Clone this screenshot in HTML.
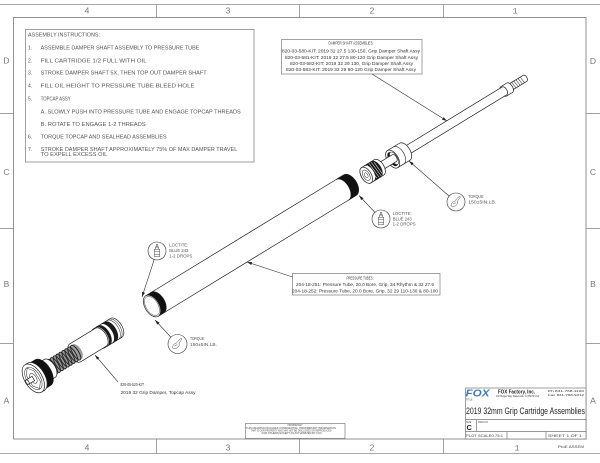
<!DOCTYPE html>
<html><head><meta charset="utf-8"><style>
html,body{margin:0;padding:0;background:#fff;}
svg{display:block;}
</style></head><body>
<svg width="600" height="463" viewBox="0 0 600 463" xmlns="http://www.w3.org/2000/svg">
<defs>
<marker id="ar" markerWidth="5" markerHeight="3" refX="5" refY="1.5" orient="auto" markerUnits="userSpaceOnUse"><path d="M0,0 L5,1.5 L0,3 Z" fill="#222"/></marker>
</defs>
<rect width="600" height="463" fill="#fff"/>

<!-- FRAME -->
<g stroke="#8a8a8a" stroke-width="0.8" fill="none">
<line x1="0" y1="4.5" x2="600" y2="4.5"/>
<line x1="0" y1="453.5" x2="600" y2="453.5"/>
<rect x="13.5" y="17.5" width="572.5" height="421.5" stroke="#777"/>
<line x1="156.5" y1="4.5" x2="156.5" y2="17.5"/>
<line x1="299.5" y1="4.5" x2="299.5" y2="17.5"/>
<line x1="443.5" y1="4.5" x2="443.5" y2="17.5"/>
<line x1="156.5" y1="439" x2="156.5" y2="453.5"/>
<line x1="299.5" y1="439" x2="299.5" y2="453.5"/>
<line x1="443.5" y1="439" x2="443.5" y2="453.5"/>
<line x1="0" y1="113.5" x2="13.5" y2="113.5"/>
<line x1="0" y1="228.5" x2="13.5" y2="228.5"/>
<line x1="0" y1="343.5" x2="13.5" y2="343.5"/>
<line x1="586" y1="113.5" x2="600" y2="113.5"/>
<line x1="586" y1="228.5" x2="600" y2="228.5"/>
<line x1="586" y1="343.5" x2="600" y2="343.5"/>
</g>
<g font-family="Liberation Sans, sans-serif" font-size="8.5" fill="#777" text-anchor="middle">
<text x="87" y="13.5">4</text><text x="228" y="13.5">3</text><text x="372" y="13.5">2</text><text x="515" y="13.5" font-family="Liberation Mono, monospace">1</text>
<text x="87" y="450.5">4</text><text x="228" y="450.5">3</text><text x="372" y="450.5">2</text><text x="517" y="450.5" font-family="Liberation Mono, monospace">1</text>
<text x="6.5" y="63.5">D</text><text x="6.5" y="175">C</text><text x="6.5" y="287">B</text><text x="6.5" y="403.5">A</text>
<text x="593" y="64">D</text><text x="593" y="175">C</text><text x="593" y="287">B</text><text x="593" y="403.5">A</text>
</g>

<!-- ASSEMBLY INSTRUCTIONS -->
<rect x="25.5" y="29.5" width="228.5" height="132.5" fill="none" stroke="#777" stroke-width="0.7"/>
<g font-family="Liberation Sans, sans-serif" font-size="5" fill="#555">
<text x="28" y="36.3" textLength="72" lengthAdjust="spacingAndGlyphs">ASSEMBLY INSTRUCTIONS:</text>
<text x="28" y="49.3">1.</text>
<text x="40.7" y="49.3" textLength="158.6" lengthAdjust="spacingAndGlyphs">ASSEMBLE DAMPER SHAFT ASSEMBLY TO PRESSURE TUBE</text>
<text x="28" y="62.7">2.</text>
<text x="40.7" y="62.7" textLength="106" lengthAdjust="spacingAndGlyphs">FILL CARTRIDGE 1/2 FULL WITH OIL</text>
<text x="28" y="74.7">3.</text>
<text x="40.7" y="74.7" textLength="166" lengthAdjust="spacingAndGlyphs">STROKE DAMPER SHAFT 5X, THEN TOP OUT DAMPER SHAFT</text>
<text x="28" y="87.3">4.</text>
<text x="40.7" y="87.3" textLength="154" lengthAdjust="spacingAndGlyphs">FILL OIL HEIGHT TO PRESSURE TUBE BLEED HOLE</text>
<text x="28" y="100.7">5.</text>
<text x="40.7" y="100.7" textLength="30" lengthAdjust="spacingAndGlyphs">TOPCAP ASSY</text>
<text x="40.7" y="113.3" textLength="200" lengthAdjust="spacingAndGlyphs">A. SLOWLY PUSH INTO PRESSURE TUBE AND ENGAGE TOPCAP THREADS</text>
<text x="40.7" y="126" textLength="105" lengthAdjust="spacingAndGlyphs">B. ROTATE TO ENGAGE 1-2 THREADS</text>
<text x="28" y="138.7">6.</text>
<text x="40.7" y="138.7" textLength="126" lengthAdjust="spacingAndGlyphs">TORQUE TOPCAP AND SEALHEAD ASSEMBLIES</text>
<text x="28" y="151.2">7.</text>
<text x="40.7" y="151.2" textLength="196.6" lengthAdjust="spacingAndGlyphs">STROKE DAMPER SHAFT APPROXIMATELY 75% OF MAX DAMPER TRAVEL</text>
<text x="40.7" y="155.8" textLength="66.6" lengthAdjust="spacingAndGlyphs">TO EXPELL EXCESS OIL</text>
</g>

<!-- DAMPER SHAFT BOX -->
<rect x="281.5" y="39.5" width="140.5" height="34.5" fill="#fff" stroke="#666" stroke-width="0.6"/>
<g font-family="Liberation Sans, sans-serif" font-size="4.5" fill="#333" text-anchor="middle">
<text x="351" y="44.4" textLength="45" lengthAdjust="spacingAndGlyphs">DAMPER SHAFT ASSEMBLIES:</text>
<text x="351" y="52.4" textLength="138" lengthAdjust="spacingAndGlyphs">820-03-580-KIT: 2019 32 27.5 130-150, Grip Damper Shaft Assy</text>
<text x="351.5" y="58.8" textLength="133" lengthAdjust="spacingAndGlyphs">820-03-581-KIT: 2019 32 27.5 80-120 Grip Damper Shaft Assy</text>
<text x="351.5" y="65" textLength="123" lengthAdjust="spacingAndGlyphs">820-03-582-KIT: 2019 32 29 130, Grip Damper Shaft Assy</text>
<text x="351" y="71.2" textLength="130" lengthAdjust="spacingAndGlyphs">820-03-583-KIT: 2019 32 29 80-120 Grip Damper Shaft Assy</text>
</g>

<!-- PRESSURE TUBES BOX -->
<rect x="292.5" y="273.5" width="147.5" height="21.5" fill="#fff" stroke="#666" stroke-width="0.6"/>
<g font-family="Liberation Sans, sans-serif" font-size="4.5" fill="#333" text-anchor="middle">
<text x="360" y="279.7" textLength="27" lengthAdjust="spacingAndGlyphs">PRESSURE TUBES:</text>
<text x="365" y="285.9" textLength="138" lengthAdjust="spacingAndGlyphs">204-18-251: Pressure Tube, 20.0 Bore, Grip, 34 Rhythm &amp; 32 27.5</text>
<text x="365" y="292.6" textLength="146" lengthAdjust="spacingAndGlyphs">204-18-252: Pressure Tube, 20.0 Bore, Grip, 32 29 110-130 &amp; 80-100</text>
</g>

<!-- TOPCAP LABEL -->
<g font-family="Liberation Sans, sans-serif" font-size="4.5" fill="#333">
<text x="120.5" y="385.8" textLength="23.5" lengthAdjust="spacingAndGlyphs">820-05-520-KIT</text>
<text x="120.5" y="393.8" textLength="75" lengthAdjust="spacingAndGlyphs">2019 32 Grip Damper, Topcap Assy</text>
</g>

<!-- PARTS (axis group) -->
<g transform="translate(152,306) rotate(-31.4)" stroke="#222" stroke-width="0.7" fill="#fff" stroke-linejoin="round">
  <path d="M418,-3.5 L437,-3.5 A2,3.5 0 0 1 437,3.5 L418,3.5 A2,3.5 0 0 1 418,-3.5 Z"/>
  <path d="M421,-3.5 L421.8,3.5 M423.5,-3.5 L424.3,3.5 M426,-3.5 L426.8,3.5 M428.5,-3.5 L429.3,3.5 M431,-3.5 L431.8,3.5 M433.5,-3.5 L434.3,3.5" stroke-width="0.5" fill="none"/>
  <path d="M412,-5.5 L419,-5.5 A3,5.5 0 0 1 419,5.5 L412,5.5 A3,5.5 0 0 1 412,-5.5 Z"/>
  <path d="M293,-4.5 L413,-4.5 A2.5,4.5 0 0 1 413,4.5 L293,4.5 Z"/>
  <path d="M282,-10 L296,-10 A5.5,10 0 0 1 296,10 L282,10 A5.5,10 0 0 1 282,-10 Z"/>
  <path d="M289,-10 A5.5,10 0 0 1 289,10" fill="none" stroke-width="0.6"/>
  <ellipse cx="282" cy="0" rx="5.5" ry="10"/>
  <ellipse cx="282" cy="0" rx="4" ry="7.8" fill="#111" stroke="none"/>
  <ellipse cx="283.6" cy="0" rx="3.2" ry="7" fill="#fff" stroke-width="0.5"/>
  <path d="M264,-4 L284,-4 A2.2,4 0 0 1 284,4 L264,4 Z"/>
  <path d="M251,-9 L266,-9 A5,9 0 0 1 266,9 L251,9 A5,9 0 0 1 251,-9 Z"/>
  <path d="M254.5,-9 L262.5,-9 A5,9 0 0 1 262.5,9 L254.5,9 A5,9 0 0 0 254.5,-9 Z" fill="#1a1a1a"/>
  <path d="M257,-8 L258.5,8 M259.5,-9 L261,8.5 M262,-8.5 L263.5,8.5 M264.5,-7 L265.5,7" stroke="#fff" stroke-width="0.5" fill="none"/>
  <ellipse cx="251" cy="0" rx="5" ry="9"/>
  <ellipse cx="251" cy="0" rx="3.2" ry="5.8" fill="none" stroke-width="0.5"/>
  <ellipse cx="251" cy="0" rx="1.5" ry="2.7" fill="none" stroke-width="0.5"/>

  <rect x="0" y="-12" width="232" height="24" stroke="none"/>
  <line x1="0" y1="-12" x2="232" y2="-12"/>
  <line x1="0" y1="12" x2="232" y2="12"/>
  <path d="M223,-12 L232,-12 A7,12 0 0 1 232,12 L223,12 A7,12 0 0 0 223,-12 Z" fill="#111"/>
  <path d="M0,-12 L6.5,-12 A7,12 0 0 1 6.5,12 L0,12 Z" fill="#111"/>
  <ellipse cx="0" cy="0" rx="7" ry="12"/>
  <ellipse cx="0" cy="0" rx="6" ry="10.6" fill="none" stroke-width="0.4"/>

  <path d="M-62,-11 L-42,-11 A6,11 0 0 1 -42,11 L-62,11 A6,11 0 0 1 -62,-11 Z"/>
  <path d="M-53,-11 L-49,-11 A6,11 0 0 1 -49,11 L-53,11 A6,11 0 0 0 -53,-11 Z" fill="#1a1a1a"/>
  <path d="M-59,-11 L-56.5,-11 A6,11 0 0 1 -56.5,11 L-59,11 A6,11 0 0 0 -59,-11 Z" fill="#1a1a1a"/>
  <path d="M-46,-11 A6,11 0 0 1 -46,11 M-44,-11 A6,11 0 0 1 -44,11" fill="none" stroke-width="0.5"/>
  <path d="M-90,-10.5 L-60,-10.5 A5.8,10.5 0 0 1 -60,10.5 L-90,10.5 A5.8,10.5 0 0 1 -90,-10.5 Z"/>
  <path d="M-123,-8.5 L-88,-8.5 A4.7,8.5 0 0 1 -88,8.5 L-123,8.5 Z" fill="#9a9a9a" stroke="none"/>
  <g fill="none" stroke-width="0.9">
    <ellipse cx="-120" cy="0" rx="3" ry="8.5"/>
    <ellipse cx="-116.6" cy="0" rx="3" ry="8.5"/>
    <ellipse cx="-113.2" cy="0" rx="3" ry="8.5"/>
    <ellipse cx="-109.8" cy="0" rx="3" ry="8.5"/>
    <ellipse cx="-106.4" cy="0" rx="3" ry="8.5"/>
    <ellipse cx="-103" cy="0" rx="3" ry="8.5"/>
    <ellipse cx="-99.6" cy="0" rx="3" ry="8.5"/>
    <ellipse cx="-96.2" cy="0" rx="3" ry="8.5"/>
    <ellipse cx="-92.8" cy="0" rx="3" ry="8.5"/>
    <ellipse cx="-89.4" cy="0" rx="3" ry="8.5"/>
  </g>
  <path d="M-128,-10.5 L-120,-10.5 A5.8,10.5 0 0 1 -120,10.5 L-128,10.5 Z"/>
  <path d="M-136,-15 L-128,-15 A8.3,15 0 0 1 -128,15 L-136,15 Z" fill="#111"/>
  <path d="M-139,-16 L-136,-16 A8.8,16 0 0 1 -136,16 L-139,16 Z"/>
  <ellipse cx="-139" cy="0" rx="8.8" ry="16"/>
  <path d="M-139,-12 L-134.5,-6 L-134.5,6 L-139,12 L-143.5,6 L-143.5,-6 Z" fill="none" stroke-width="0.5"/>
  <ellipse cx="-139" cy="0" rx="6.8" ry="12.5" fill="none" stroke-width="0.5"/>
  <ellipse cx="-139" cy="0" rx="3" ry="5.5" fill="none" stroke-width="0.5"/>
  <path d="M-146,-2.5 L-139,-2.5 L-139,2.5 L-146,2.5 A1.4,2.5 0 0 1 -146,-2.5 Z"/>
  <ellipse cx="-146" cy="0" rx="1.4" ry="2.5"/>
</g>

<!-- CALLOUT CIRCLES -->
<g fill="#fff" stroke="#333" stroke-width="0.6">
<circle cx="381" cy="219" r="9"/>
<circle cx="157" cy="251" r="9"/>
<circle cx="456" cy="202" r="9"/>
<circle cx="177.5" cy="344" r="9.5"/>
</g>
<g fill="none" stroke="#333" stroke-width="0.45">
  <g transform="translate(381,219)">
    <rect x="-0.8" y="-6.5" width="1.6" height="2.5"/><rect x="-1.8" y="-4" width="3.6" height="2.2"/>
    <rect x="-2.6" y="-1.8" width="5.2" height="7.5"/><line x1="-2.6" y1="0.8" x2="2.6" y2="0.8"/><line x1="-2.6" y1="3.5" x2="2.6" y2="3.5"/>
  </g>
  <g transform="translate(157,251)">
    <rect x="-0.8" y="-6.5" width="1.6" height="2.5"/><rect x="-1.8" y="-4" width="3.6" height="2.2"/>
    <rect x="-2.6" y="-1.8" width="5.2" height="7.5"/><line x1="-2.6" y1="0.8" x2="2.6" y2="0.8"/><line x1="-2.6" y1="3.5" x2="2.6" y2="3.5"/>
  </g>
  <g transform="translate(456,202)">
    <path d="M-5,4 Q-5,0 -1.5,-0.5 L2.5,-5 Q3.5,-6 4.5,-5 L1.5,-1 Q2.5,1.5 0.5,3 Q-1,5 -5,4 Z"/>
    <path d="M-3,2 Q-1.5,0.5 0,1"/>
  </g>
  <g transform="translate(177.5,344)">
    <path d="M-5,4 Q-5,0 -1.5,-0.5 L2.5,-5 Q3.5,-6 4.5,-5 L1.5,-1 Q2.5,1.5 0.5,3 Q-1,5 -5,4 Z"/>
    <path d="M-3,2 Q-1.5,0.5 0,1"/>
  </g>
</g>
<g font-family="Liberation Sans, sans-serif" font-size="4.2" fill="#555">
<text x="392.7" y="215" textLength="19" lengthAdjust="spacingAndGlyphs">LOCTITE:</text>
<text x="392.7" y="220.5" textLength="19" lengthAdjust="spacingAndGlyphs">BLUE 243</text>
<text x="392.7" y="225.5" textLength="23" lengthAdjust="spacingAndGlyphs">1-2 DROPS</text>
<text x="169.3" y="246.7" textLength="19" lengthAdjust="spacingAndGlyphs">LOCTITE:</text>
<text x="169.3" y="252" textLength="19" lengthAdjust="spacingAndGlyphs">BLUE 243</text>
<text x="169.3" y="257.3" textLength="23" lengthAdjust="spacingAndGlyphs">1-2 DROPS</text>
<text x="468.3" y="197.8" textLength="16" lengthAdjust="spacingAndGlyphs">TORQUE:</text>
<text x="468.3" y="203.5" textLength="28" lengthAdjust="spacingAndGlyphs">150±5IN.LB.</text>
<text x="190" y="340" textLength="15" lengthAdjust="spacingAndGlyphs">TORQUE:</text>
<text x="190" y="346" textLength="27" lengthAdjust="spacingAndGlyphs">150±5IN.LB.</text>
</g>

<!-- LEADERS -->
<g stroke="#333" stroke-width="0.6" fill="none" marker-end="url(#ar)">
<line x1="372" y1="74" x2="447" y2="121"/>
<line x1="449" y1="196" x2="409" y2="161"/>
<line x1="375" y1="212.5" x2="359" y2="195.5"/>
<line x1="154.2" y1="259.6" x2="142" y2="297"/>
<line x1="292.5" y1="277" x2="247" y2="262"/>
<line x1="170.7" y1="337" x2="155" y2="320"/>
<line x1="118" y1="382" x2="95" y2="355"/>
</g>

<!-- PROPRIETARY BOX -->
<rect x="245.5" y="423.5" width="99.5" height="15" fill="#fff" stroke="#666" stroke-width="0.6"/>
<g font-family="Liberation Sans, sans-serif" font-size="2.6" fill="#444" text-anchor="middle">
<text x="295" y="425.8" textLength="15" lengthAdjust="spacingAndGlyphs">PROPRIETARY</text>
<text x="291" y="429" textLength="90" lengthAdjust="spacingAndGlyphs">THIS DRAWING INCLUDES CONFIDENTIAL, PROPRIETARY INFORMATION</text>
<text x="291" y="431.7" textLength="81" lengthAdjust="spacingAndGlyphs">THAT IS OUR PROPERTY AND MAY NOT BE DISCLOSED OR REPRODUCED</text>
<text x="291.7" y="434.2" textLength="60" lengthAdjust="spacingAndGlyphs">FOR OTHERS EXCEPT AS AUTHORIZED BY FOX</text>
</g>

<!-- TITLE BLOCK -->
<g stroke="#777" stroke-width="0.7" fill="none">
<rect x="465.5" y="388" width="120.5" height="51" fill="#fff"/>
<line x1="465.5" y1="419.5" x2="586" y2="419.5"/>
<line x1="465.5" y1="431.5" x2="586" y2="431.5"/>
<line x1="476.5" y1="419.5" x2="476.5" y2="431.5"/>
<line x1="507" y1="431.5" x2="507" y2="439"/>
<line x1="546" y1="431.5" x2="546" y2="439"/>
</g>
<g font-family="Liberation Sans, sans-serif">
<text x="465.5" y="396.5" font-size="10" font-weight="bold" font-style="italic" fill="#3a7cc4" textLength="24" lengthAdjust="spacingAndGlyphs">FOX</text>
<text x="498" y="393.5" font-size="5.5" font-weight="bold" fill="#222" textLength="37" lengthAdjust="spacingAndGlyphs">FOX Factory, Inc.</text>
<text x="496" y="397" font-size="2.4" fill="#333" textLength="43" lengthAdjust="spacingAndGlyphs">130 Hangar Way, Watsonville, CA 95076 USA</text>
<text x="548" y="392" font-size="2.4" fill="#333" textLength="36" lengthAdjust="spacingAndGlyphs">Ph 831-768-1100</text>
<text x="548" y="396" font-size="2.4" fill="#333" textLength="36" lengthAdjust="spacingAndGlyphs">Fax 831-768-9312</text>
<text x="466" y="400.5" font-size="2.4" fill="#444">TITLE</text>
<text x="466" y="413.8" font-size="9.5" fill="#222" textLength="119" lengthAdjust="spacingAndGlyphs">2019 32mm Grip Cartridge Assemblies</text>
<text x="466" y="423" font-size="2.4" fill="#444">SIZE</text>
<text x="478" y="423" font-size="2.4" fill="#444">DWG NO.</text>
<text x="466.5" y="429.8" font-size="7.5" font-weight="bold" fill="#222">C</text>
<text x="466" y="437" font-size="3.5" fill="#444" textLength="37" lengthAdjust="spacingAndGlyphs">PLOT SCALE0.75:1</text>
<text x="548" y="437" font-size="3.5" fill="#444" textLength="34" lengthAdjust="spacingAndGlyphs">SHEET 1 OF 1</text>
<text x="558" y="447.8" font-size="3.6" fill="#444" textLength="26" lengthAdjust="spacingAndGlyphs">ProE ASSEM</text>
</g>
</svg>
</body></html>
